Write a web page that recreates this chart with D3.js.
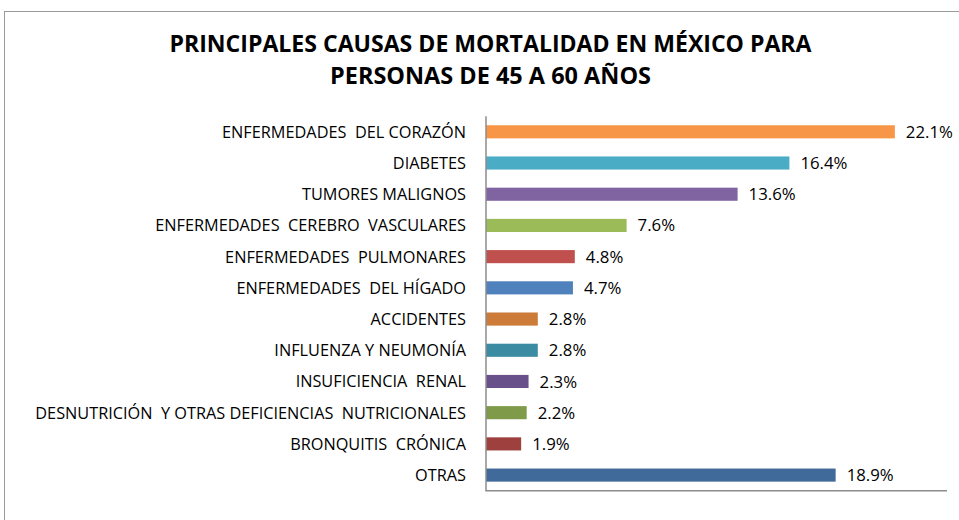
<!DOCTYPE html>
<html><head><meta charset="utf-8">
<script src="https://cdn.jsdelivr.net/npm/d3@7"></script>
<style>
body{margin:0;background:#fff;}
text{white-space:pre;}
</style></head>
<body><svg id="c" width="959" height="520"></svg>
<script>
const categories = [
  "ENFERMEDADES  DEL CORAZÓN",
  "DIABETES",
  "TUMORES MALIGNOS",
  "ENFERMEDADES  CEREBRO  VASCULARES",
  "ENFERMEDADES  PULMONARES",
  "ENFERMEDADES  DEL HÍGADO",
  "ACCIDENTES",
  "INFLUENZA Y NEUMONÍA",
  "INSUFICIENCIA  RENAL",
  "DESNUTRICIÓN  Y OTRAS DEFICIENCIAS  NUTRICIONALES",
  "BRONQUITIS  CRÓNICA",
  "OTRAS"
];
const values = [22.1, 16.4, 13.6, 7.6, 4.8, 4.7, 2.8, 2.8, 2.3, 2.2, 1.9, 18.9];
const valueLabels = ["22.1%","16.4%","13.6%","7.6%","4.8%","4.7%","2.8%","2.8%","2.3%","2.2%","1.9%","18.9%"];
const colors = ["#F79646","#4BACC6","#8064A2","#9BBB59","#C0504D","#4F81BD","#CC7B38","#3B8CA2","#68508A","#7F9A48","#9E413E","#406A9A"];
const titleLines = ["PRINCIPALES CAUSAS DE MORTALIDAD EN MÉXICO PARA","PERSONAS DE 45 A 60 AÑOS"];
const titleWidths = [642, 321];

const svg = d3.select("#c");
const font = "'Open Sans', sans-serif";

// chart border
svg.append("rect").attr("x",4.5).attr("y",11.5).attr("width",970).attr("height",530)
  .attr("fill","#fff").attr("stroke","#9a9a9a").attr("stroke-width",1);

// title
svg.append("g").selectAll("text").data(titleLines).join("text")
  .attr("x",490.5).attr("y",(d,i)=>51.5+i*32)
  .attr("text-anchor","middle")
  .attr("font-family",font).attr("font-weight","bold")
  .attr("font-size",23).attr("fill","#000")
  .attr("textLength",(d,i)=>titleWidths[i]).attr("lengthAdjust","spacingAndGlyphs")
  .text(d=>d);

const x0 = 486, yTop = 116.2, yBot = 490.7;
const x = d3.scaleLinear().domain([0,25]).range([x0, x0 + 25*18.5]);
const y = d3.scaleBand().domain(categories).range([yTop, yBot]).paddingInner(0.58).paddingOuter(0.29);

const g = svg.append("g");
g.selectAll("rect.bar").data(values).join("rect").attr("class","bar")
  .attr("x", x(0)).attr("y",(d,i)=>y(categories[i]))
  .attr("width", d=>x(d)-x(0)).attr("height", y.bandwidth())
  .attr("fill",(d,i)=>colors[i]);

g.selectAll("text.val").data(values).join("text").attr("class","val")
  .attr("x", d=>x(d)+11).attr("y",(d,i)=>y(categories[i]) + y.bandwidth()/2)
  .attr("dy","0.36em")
  .attr("font-family",font).attr("font-size",16.8).attr("fill","#000")
  .text((d,i)=>valueLabels[i]);

// y axis
const yAxis = d3.axisLeft(y).tickSize(0).tickPadding(20);
const ya = svg.append("g").attr("transform",`translate(${x0},0)`).call(yAxis);
ya.select(".domain").attr("stroke","#8c8c8c").attr("stroke-width",1.5)
  .attr("d",`M0,${yTop}V${yBot}`);
ya.selectAll("text").attr("font-family",font).attr("font-size",16.3).attr("fill","#000")
  .attr("dy","0.36em");

// x axis line
svg.append("line").attr("x1",x0-0.75).attr("x2",947).attr("y1",yBot).attr("y2",yBot)
  .attr("stroke","#8c8c8c").attr("stroke-width",1.5);
</script></body></html>
